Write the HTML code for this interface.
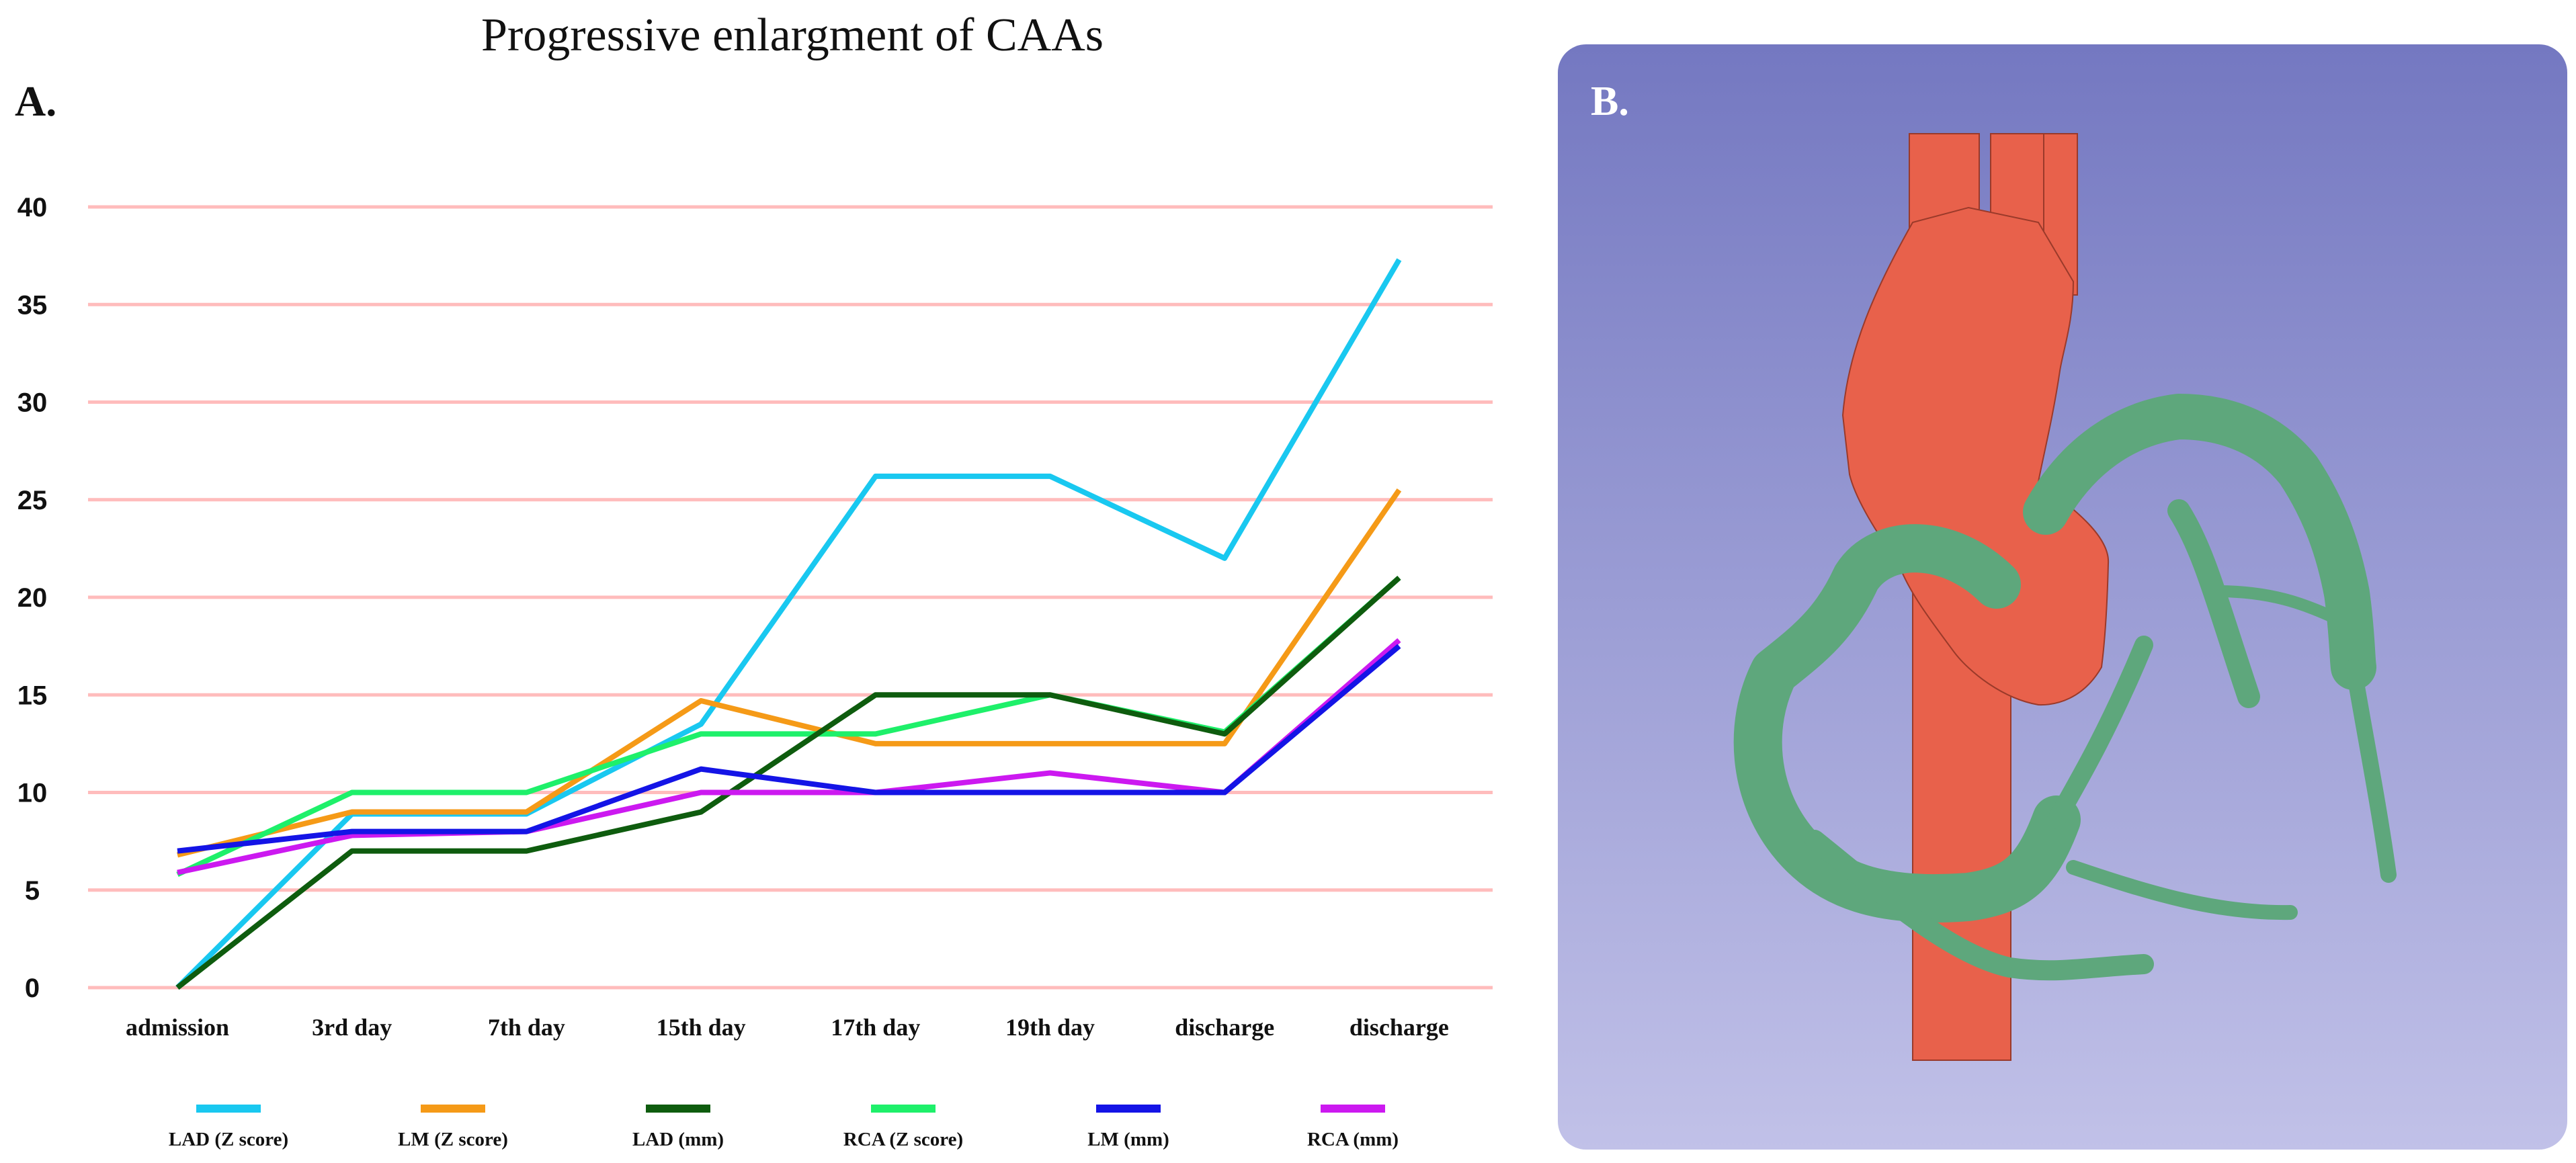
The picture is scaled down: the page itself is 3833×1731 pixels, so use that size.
<!DOCTYPE html>
<html><head><meta charset="utf-8"><style>
html,body{margin:0;padding:0;background:#fff;}
svg{display:block;}
</style></head><body>
<svg id="fig" width="3833" height="1731" viewBox="0 0 3833 1731" xmlns="http://www.w3.org/2000/svg">
<defs>
<linearGradient id="bg" x1="0" y1="0" x2="0" y2="1">
<stop offset="0" stop-color="#7478c1"/><stop offset="1" stop-color="#c1c1e8"/>
</linearGradient>
</defs>
<text x="1179" y="75" text-anchor="middle" font-family="Liberation Serif, serif" font-size="70" fill="#111">Progressive enlargment of CAAs</text>
<text x="22" y="172" font-family="Liberation Serif, serif" font-weight="bold" font-size="64" fill="#111">A.</text>
<g id="grid"></g>
<g id="yticks"></g>
<g id="xticks"></g>
<g id="series"></g>
<g id="legend"></g>

<g>
<rect x="2318" y="66" width="1502" height="1645" rx="42" fill="url(#bg)"/>
<text x="2367" y="171" font-family="Liberation Serif, serif" font-weight="bold" font-size="62" fill="#fff">B.</text>
<g fill="#e8614b" stroke="#9a3a2a" stroke-width="2">
<rect x="2846" y="500" width="146" height="1078"/>
<rect x="2841" y="199" width="104" height="260"/>
<rect x="2962" y="199" width="80" height="260"/>
<rect x="3041" y="199" width="50" height="240"/>
<path d="M2742 618 C2750 520 2790 430 2846 331 L2929 309 L3033 331 L3085 419 C3085 480 3070 520 3065 552 C3055 620 3040 680 3033 717 C3090 760 3140 800 3137 839 C3135 920 3130 970 3127 993 C3100 1040 3060 1050 3033 1049 C2980 1040 2930 1000 2908 971 C2870 920 2840 880 2825 839 C2790 790 2760 740 2752 706 Z"/>
</g>
<g fill="none" stroke="#5ea77c" stroke-linecap="round" stroke-linejoin="round">
<path d="M2971 870 C2900 800 2800 800 2762 860 C2730 930 2690 960 2640 1000 C2600 1080 2610 1180 2665 1250 C2720 1320 2800 1345 2929 1335 C3000 1325 3030 1300 3060 1220" stroke-width="72"/>
<path d="M3060 1220 C3100 1150 3140 1080 3190 960" stroke-width="28"/>
<path d="M2700 1250 C2800 1330 2900 1420 2990 1440 C3060 1450 3100 1440 3190 1435" stroke-width="30"/>
<path d="M3085 1291 C3200 1330 3300 1360 3408 1358" stroke-width="22"/>
<path d="M3044 762 C3090 680 3160 630 3242 620 C3320 620 3380 650 3420 700 C3460 760 3480 820 3492 883 C3500 940 3500 980 3502 993" stroke-width="68"/>
<path d="M3502 993 C3520 1100 3540 1200 3554 1302" stroke-width="24"/>
<path d="M3242 760 C3280 820 3300 900 3346 1037" stroke-width="34"/>
<path d="M3300 880 C3380 880 3430 900 3466 916" stroke-width="18"/>
</g>
</g>
</svg>
<script>
const categories = ["admission","3rd day","7th day","15th day","17th day","19th day","discharge","discharge"];
const yTicks = [0,5,10,15,20,25,30,35,40];
const seriesNames = ["LAD (Z score)","LM (Z score)","LAD (mm)","RCA (Z score)","LM (mm)","RCA (mm)"];
const seriesColors = ["#19c8f0","#f59a17","#0e5c0e","#1ef06a","#1414e6","#cc19f0"];
const ladZ = [0, 8.9, 8.9, 13.5, 26.2, 26.2, 22, 37.3];
const lmZ = [6.8, 9, 9, 14.7, 12.5, 12.5, 12.5, 25.5];
const ladMm = [0, 7, 7, 9, 15, 15, 13, 21];
const rcaZ = [5.8, 10, 10, 13, 13, 15, 13.1, 21];
const lmMm = [7, 8, 8, 11.2, 10, 10, 10, 17.5];
const rcaMm = [5.9, 7.8, 8, 10, 10, 11, 10, 17.8];
const seriesData = [ladZ, lmZ, ladMm, rcaZ, lmMm, rcaMm];
const drawOrder = [0,1,3,2,5,4];

const NS = "http://www.w3.org/2000/svg";
const X0 = 264, XSTEP = 259.7, Y0 = 1470, YPER = 29.05;
const xPos = i => X0 + i * XSTEP;
const yPos = v => Y0 - v * YPER;
function mk(tag, attrs, parent){const e=document.createElementNS(NS,tag);for(const k in attrs)e.setAttribute(k,attrs[k]);parent.appendChild(e);return e;}

const grid=document.getElementById('grid'), yt=document.getElementById('yticks'), xt=document.getElementById('xticks');
yTicks.forEach(v=>{
  const l=mk('line',{x1:131,x2:2221,y1:yPos(v),y2:yPos(v),stroke:'#ffbcbc','stroke-width':5},grid);
  
  
  const t=mk('text',{x:48,y:yPos(v)+14,'text-anchor':'middle','font-family':'Liberation Sans, sans-serif','font-weight':'bold','font-size':40,fill:'#111'},yt);
  t.textContent=v;
  
  
});
categories.forEach((c,i)=>{
  const t=mk('text',{x:xPos(i),y:1541,'text-anchor':'middle','font-family':'Liberation Serif, serif','font-weight':'bold','font-size':36,fill:'#111'},xt);
  t.textContent=c;
  
  
});
const sg=document.getElementById('series');
drawOrder.forEach(s=>{
  const pts=seriesData[s].map((v,i)=>xPos(i)+','+yPos(v)).join(' ');
  const p=mk('polyline',{points:pts,fill:'none',stroke:seriesColors[s],'stroke-width':8,'stroke-linejoin':'round'},sg);
  
  
});
const lg=document.getElementById('legend');
const legX=[340,674,1009,1344,1679,2013];
seriesNames.forEach((n,i)=>{
  const l=mk('line',{x1:legX[i]-48,x2:legX[i]+48,y1:1650,y2:1650,stroke:seriesColors[i],'stroke-width':12},lg);
  
  
  const t=mk('text',{x:legX[i],y:1705,'text-anchor':'middle','font-family':'Liberation Serif, serif','font-weight':'bold','font-size':29,fill:'#111'},lg);
  t.textContent=n;
  
  
});
</script>
</body></html>
